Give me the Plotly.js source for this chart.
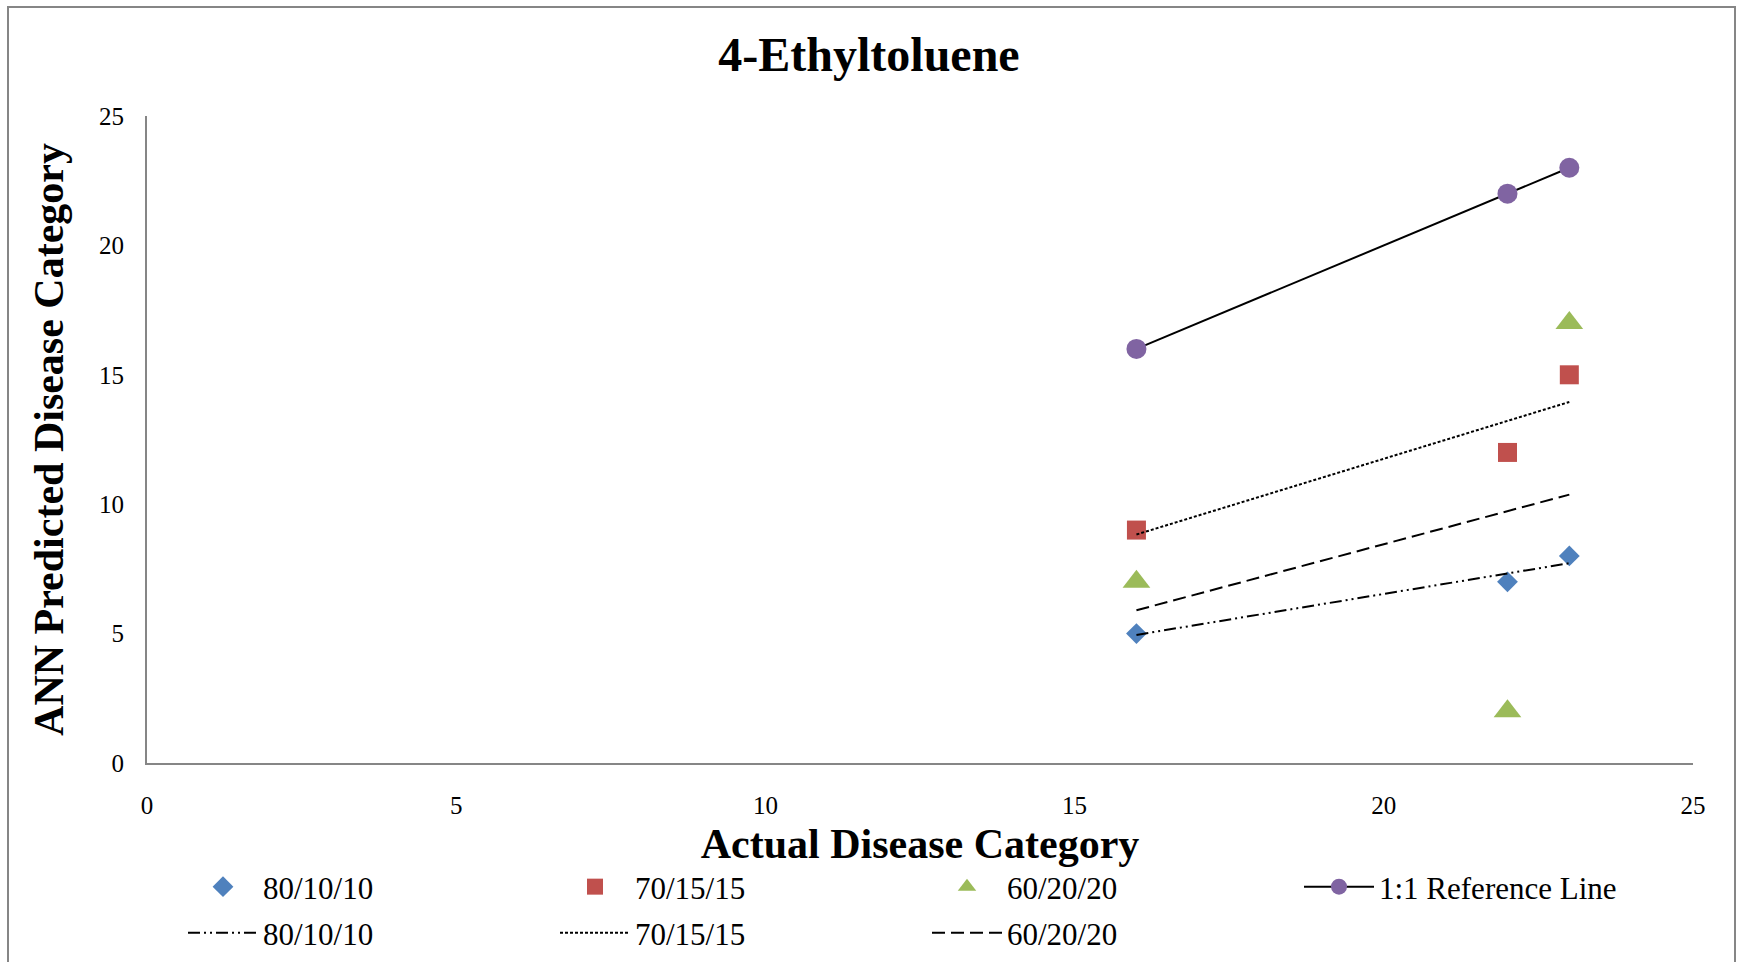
<!DOCTYPE html>
<html><head><meta charset="utf-8">
<script src="https://cdn.plot.ly/plotly-3.0.1.min.js"></script>
<style>html,body{margin:0;padding:0;background:#fff}#chart{width:1738px;height:962px}</style>
</head><body><div id="chart"></div>
<script>
// ---- data ----
const actual = [16, 22, 23];
const pred80 = [5, 7, 8];
const pred70 = [9, 12, 15];
const pred60 = [7, 2, 17];
const refLine = [16, 22, 23];
const trendX = [16, 23];
const trend80 = [4.95, 7.72];
const trend70 = [8.83, 13.95];
const trend60 = [5.9, 10.37];
const seriesNames = ['80/10/10', '70/15/15', '60/20/20', '1:1 Reference Line'];
const xTicks = [0, 5, 10, 15, 20, 25];
const yTicks = [0, 5, 10, 15, 20, 25];

// ---- layout helpers ----
const W = 1738, H = 962, L = 147, R = 45, T = 116, B = 199;
const PW = W - L - R, PH = H - T - B;
const px = v => (v - L) / PW;
const py = v => (H - B - v) / PH;
const FONT = '"Liberation Serif", "Times New Roman", serif';

const traces = [
  {x: actual, y: pred80, name: seriesNames[0], type: 'scatter', mode: 'markers',
   marker: {symbol: 'diamond', size: 16, color: '#4F81BD'}, legend: 'legend'},
  {x: actual, y: pred70, name: seriesNames[1], type: 'scatter', mode: 'markers',
   marker: {symbol: 'square', size: 19, color: '#C0504D'}, legend: 'legend'},
  {x: actual, y: pred60, name: seriesNames[2], type: 'scatter', mode: 'markers',
   marker: {symbol: 'triangle-up', size: 24, color: '#9BBB59'}, legend: 'legend'},
  {x: actual, y: refLine, name: seriesNames[3], type: 'scatter', mode: 'lines+markers',
   line: {color: '#000000', width: 2}, marker: {symbol: 'circle', size: 20, color: '#8064A2'}, legend: 'legend'},
  {x: trendX, y: trend80, name: seriesNames[0], type: 'scatter', mode: 'lines',
   line: {color: '#000000', width: 2, dash: '12px,4px,2px,4px,2px,4px'}, legend: 'legend2'},
  {x: trendX, y: trend70, name: seriesNames[1], type: 'scatter', mode: 'lines',
   line: {color: '#000000', width: 2, dash: '3px,2px'}, legend: 'legend2'},
  {x: trendX, y: trend60, name: seriesNames[2], type: 'scatter', mode: 'lines',
   line: {color: '#000000', width: 2, dash: '13px,6px'}, legend: 'legend2'}
];

const legendCommon = {
  orientation: 'h', xanchor: 'left', yanchor: 'middle',
  font: {family: FONT, size: 31, color: '#000'},
  entrywidth: 287, entrywidthmode: 'pixels', itemwidth: 70,
  bgcolor: 'rgba(0,0,0,0)', borderwidth: 0, traceorder: 'normal'
};

const layout = {
  width: W, height: H,
  margin: {l: L, r: R, t: T, b: B, pad: 0, autoexpand: false},
  paper_bgcolor: '#fff', plot_bgcolor: '#fff',
  font: {family: FONT, color: '#000'},
  showlegend: true,
  title: {text: '<b>4-Ethyltoluene</b>', font: {family: FONT, size: 48, color: '#000'},
          xref: 'container', x: 0.5, xanchor: 'center', yref: 'container', y: 1 - 54 / H, yanchor: 'middle'},
  xaxis: {range: [0, 25], tickvals: xTicks, ticktext: xTicks.map(String), showgrid: false, zeroline: false,
          showline: true, linecolor: '#868686', linewidth: 2, ticks: '', ticklabelstandoff: 19,
          tickfont: {family: FONT, size: 25, color: '#000'}, automargin: false,
          title: {text: '<b>Actual Disease Category</b>', font: {family: FONT, size: 42, color: '#000'}, standoff: 11}},
  yaxis: {range: [0, 25], tickvals: yTicks, ticktext: yTicks.map(String), showgrid: false, zeroline: false,
          showline: true, linecolor: '#868686', linewidth: 2, ticks: '', ticklabelstandoff: 16,
          tickfont: {family: FONT, size: 25, color: '#000'}, automargin: false,
          title: {text: '<b>ANN Predicted Disease Category</b>', font: {family: FONT, size: 42, color: '#000'}, standoff: 22}},
  legend: Object.assign({}, legendCommon, {x: px(183), y: py(887)}),
  legend2: Object.assign({}, legendCommon, {x: px(183), y: py(933)}),
  shapes: [{type: 'rect', xref: 'paper', yref: 'paper', x0: px(8), x1: px(1735), y0: py(7), y1: py(980),
            line: {color: '#868686', width: 2}, fillcolor: 'rgba(0,0,0,0)', layer: 'below'}]
};

Plotly.newPlot('chart', traces, layout, {displayModeBar: false, staticPlot: true});
</script></body></html>
